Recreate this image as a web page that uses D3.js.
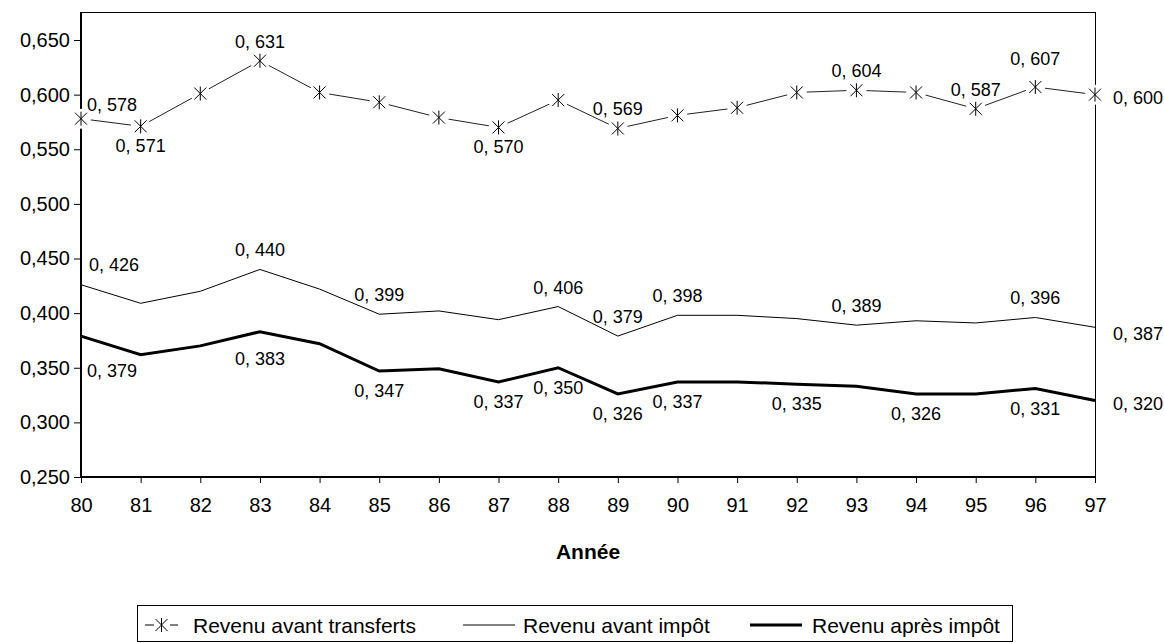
<!DOCTYPE html>
<html>
<head>
<meta charset="utf-8">
<script src="https://cdn.jsdelivr.net/npm/d3@7"></script>
<style>
  html, body { margin: 0; padding: 0; background: #fff; }
  svg { display: block; font-family: "Liberation Sans", Arial, sans-serif; }
</style>
</head>
<body>
<svg id="chart" width="1164" height="643"></svg>
<script>
// ---- data ----
const years = ["80","81","82","83","84","85","86","87","88","89","90","91","92","93","94","95","96","97"];
const avantTransferts = [0.578, 0.571, 0.601, 0.631, 0.602, 0.593, 0.579, 0.570, 0.595, 0.569, 0.581, 0.588, 0.602, 0.604, 0.602, 0.587, 0.607, 0.600];
const avantImpot      = [0.426, 0.409, 0.420, 0.440, 0.422, 0.399, 0.402, 0.394, 0.406, 0.379, 0.398, 0.398, 0.395, 0.389, 0.393, 0.391, 0.396, 0.387];
const apresImpot      = [0.379, 0.362, 0.370, 0.383, 0.372, 0.347, 0.349, 0.337, 0.350, 0.326, 0.337, 0.337, 0.335, 0.333, 0.326, 0.326, 0.331, 0.320];
const seriesNames = ["Revenu avant transferts", "Revenu avant impôt", "Revenu après impôt"];
const yTicks = [0.250, 0.300, 0.350, 0.400, 0.450, 0.500, 0.550, 0.600, 0.650];
const xTitle = "Année";
// which points carry a value label, and where it sits
const labeled = [
  ["80","aboveStart"],["81","below"],["83","above"],["87","below"],["89","above"],["93","above"],["95","above"],["96","aboveHigh"],["97","right"]
];
const labeled2 = [
  ["80","aboveStart2"],["83","above"],["85","above"],["88","above"],["89","above"],["90","above"],["93","above"],["96","above"],["97","right2"]
];
const labeled3 = [
  ["80","belowStart"],["83","belowFar"],["85","below"],["87","below"],["88","below"],["89","below"],["90","below"],["92","below"],["94","below"],["96","below"],["97","right"]
];

// ---- layout ----
const svg = d3.select("#chart");
const L = 81, R = 1095, T = 12, B = 477;
const x = d3.scalePoint().domain(years).range([L, R]);
const y = d3.scaleLinear().domain([0.25, 0.65]).range([B, 40]);

const fmtTick = v => d3.format(".3f")(v).replace(".", ",");
const fmtLab = v => d3.format(".3f")(v).replace(".", ", ");

const place = {
  above:      {dx: 0,  dy: -13, anchor: "middle"},
  aboveHigh:  {dx: 0,  dy: -22, anchor: "middle"},
  below:      {dx: 0,  dy: 26,  anchor: "middle"},
  belowFar:   {dx: 0,  dy: 33,  anchor: "middle"},
  right:      {dx: 18, dy: 9,   anchor: "start"},
  right2:     {dx: 18, dy: 13,  anchor: "start"},
  aboveStart: {dx: 6,  dy: -8,  anchor: "start"},
  aboveStart2:{dx: 8,  dy: -14, anchor: "start"},
  belowStart: {dx: 6,  dy: 41,  anchor: "start"}
};

// frame: top and right borders
svg.append("line").attr("x1", L).attr("x2", R).attr("y1", T + 0.5).attr("y2", T + 0.5)
  .attr("stroke", "#000").attr("stroke-width", 1);
svg.append("line").attr("x1", R + 0.5).attr("x2", R + 0.5).attr("y1", T).attr("y2", B)
  .attr("stroke", "#000").attr("stroke-width", 1);

// y axis
const yAxis = svg.append("g").attr("transform", `translate(${L},0)`)
  .call(d3.axisLeft(y).tickValues(yTicks).tickFormat(fmtTick).tickSize(7).tickPadding(4));
yAxis.select(".domain").remove();
yAxis.append("line").attr("x1", 0).attr("x2", 0).attr("y1", T).attr("y2", B + 1)
  .attr("stroke", "#000").attr("stroke-width", 2);
yAxis.selectAll(".tick line").attr("stroke", "#000");
yAxis.selectAll(".tick text").attr("font-size", 20).attr("fill", "#000")
  .attr("font-family", "Liberation Sans, Arial, sans-serif");

// x axis
const xAxis = svg.append("g").attr("transform", `translate(0,${B})`)
  .call(d3.axisBottom(x).tickSize(6).tickPadding(15));
xAxis.select(".domain").remove();
xAxis.append("line").attr("x1", L - 1).attr("x2", R + 1).attr("y1", 0).attr("y2", 0)
  .attr("stroke", "#000").attr("stroke-width", 2);
xAxis.selectAll(".tick line").attr("stroke", "#000");
xAxis.selectAll(".tick text").attr("font-size", 20).attr("fill", "#000")
  .attr("font-family", "Liberation Sans, Arial, sans-serif");

svg.append("text").attr("x", 588).attr("y", 559).attr("text-anchor", "middle")
  .attr("font-size", 21).attr("font-weight", "bold").text(xTitle);

const line = d3.line().x((d, i) => x(years[i])).y(d => y(d));

// series 2 and 3
svg.append("path").datum(avantImpot).attr("d", line).attr("fill", "none")
  .attr("stroke", "#000").attr("stroke-width", 1);
svg.append("path").datum(apresImpot).attr("d", line).attr("fill", "none")
  .attr("stroke", "#000").attr("stroke-width", 3).attr("stroke-linejoin", "miter");

// series 1 with marker halos
svg.append("path").datum(avantTransferts).attr("d", line).attr("fill", "none")
  .attr("stroke", "#222").attr("stroke-width", 1);
svg.append("g").selectAll("circle").data(avantTransferts).join("circle")
  .attr("cx", (d, i) => x(years[i])).attr("cy", d => y(d)).attr("r", 10).attr("fill", "#fff");
const star = "M-6,-6L6,6M-6,6L6,-6M0,-7L0,7";
svg.append("g").selectAll("path").data(avantTransferts).join("path")
  .attr("transform", (d, i) => `translate(${x(years[i])},${y(d)})`)
  .attr("d", star).attr("fill", "none").attr("stroke", "#000").attr("stroke-width", 1);

// data labels
function labels(values, spec) {
  svg.append("g").selectAll("text").data(spec).join("text")
    .attr("x", d => x(d[0]) + place[d[1]].dx)
    .attr("y", d => y(values[years.indexOf(d[0])]) + place[d[1]].dy)
    .attr("text-anchor", d => place[d[1]].anchor)
    .attr("font-size", 18).attr("fill", "#000")
    .text(d => fmtLab(values[years.indexOf(d[0])]));
}
labels(avantTransferts, labeled);
labels(avantImpot, labeled2);
labels(apresImpot, labeled3);

// legend
const lg = svg.append("g");
lg.append("rect").attr("x", 137.5).attr("y", 605.5).attr("width", 875).attr("height", 36)
  .attr("fill", "#fff").attr("stroke", "#000").attr("stroke-width", 1);
const ly = 625;
// item 1
lg.append("line").attr("x1", 145).attr("x2", 154).attr("y1", ly).attr("y2", ly).attr("stroke", "#000");
lg.append("line").attr("x1", 170).attr("x2", 178).attr("y1", ly).attr("y2", ly).attr("stroke", "#000");
lg.append("path").attr("transform", `translate(161.5,${ly})`).attr("d", star)
  .attr("fill", "none").attr("stroke", "#000");
lg.append("text").attr("x", 193).attr("y", 633).attr("font-size", 21).text(seriesNames[0]);
// item 2
lg.append("line").attr("x1", 463).attr("x2", 515).attr("y1", ly).attr("y2", ly).attr("stroke", "#000");
lg.append("text").attr("x", 523).attr("y", 633).attr("font-size", 21).text(seriesNames[1]);
// item 3
lg.append("line").attr("x1", 750).attr("x2", 802).attr("y1", ly).attr("y2", ly)
  .attr("stroke", "#000").attr("stroke-width", 3);
lg.append("text").attr("x", 812).attr("y", 633).attr("font-size", 21).text(seriesNames[2]);
</script>
</body>
</html>
